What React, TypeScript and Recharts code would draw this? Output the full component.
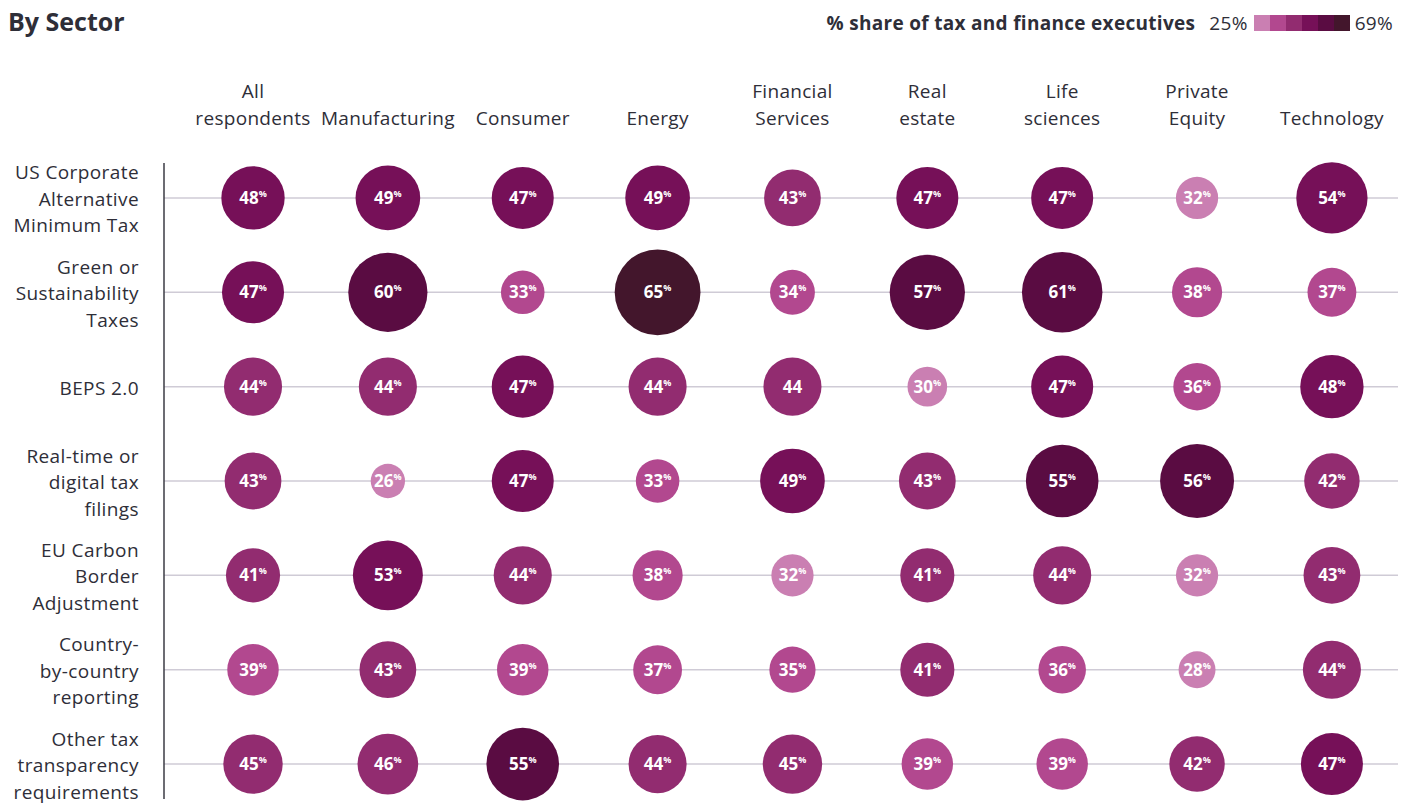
import { ScatterChart, Scatter, XAxis, YAxis, ZAxis, ReferenceLine } from "recharts";

const FONT = "'Open Sans', sans-serif";
const TEXT = "#2e2e38";

// sector columns (line breaks as in the header)
const sectors = [
    "All\nrespondents",
    "Manufacturing",
    "Consumer",
    "Energy",
    "Financial\nServices",
    "Real\nestate",
    "Life\nsciences",
    "Private\nEquity",
    "Technology",
];

// issue rows
const issues = [
    "US Corporate\nAlternative\nMinimum Tax",
    "Green or\nSustainability\nTaxes",
    "BEPS 2.0",
    "Real-time or\ndigital tax\nfilings",
    "EU Carbon\nBorder\nAdjustment",
    "Country-\nby-country\nreporting",
    "Other tax\ntransparency\nrequirements",
];

// % share per sector, same order as sectors
const usCorporateAmt = [48, 49, 47, 49, 43, 47, 47, 32, 54];
const greenTaxes = [47, 60, 33, 65, 34, 57, 61, 38, 37];
const beps2 = [44, 44, 47, 44, 44, 30, 47, 36, 48];
const realTimeFilings = [43, 26, 47, 33, 49, 43, 55, 56, 42];
const euCarbonBorder = [41, 53, 44, 38, 32, 41, 44, 32, 43];
const countryByCountry = [39, 43, 39, 37, 35, 41, 36, 28, 44];
const otherTransparency = [45, 46, 55, 44, 45, 39, 39, 42, 47];

const issueValues = [usCorporateAmt, greenTaxes, beps2, realTimeFilings, euCarbonBorder, countryByCountry, otherTransparency];

// the source prints this one without the % sign
const bareLabels = [{ issue: "BEPS 2.0", sector: "Financial\nServices" }];

const legendMin = 25;
const legendMax = 69;
const palette = ["#ca7fb2", "#b2488f", "#922c70", "#761058", "#5a0c42", "#43162c"];

const colorFor = (v: number) => {
    const step = Math.floor(((v - legendMin) * palette.length) / (legendMax - legendMin));
    return palette[Math.max(0, Math.min(palette.length - 1, step))];
};

const points = issueValues.flatMap((row, i) =>
    row.map((value, j) => ({
        sector: j,
        issue: i,
        value,
        showPercent: !bareLabels.some((b) => b.issue === issues[i] && b.sector === sectors[j]),
    }))
);

const Bubble = (props: any) => {
    const { cx, cy, size, payload } = props;
    const r = size / 2;
    return (
        <g>
            <circle cx={cx} cy={cy} r={r} fill={colorFor(payload.value)} />
            <text x={cx} y={cy + 6} textAnchor="middle" fill="#fff" fontSize={17} fontWeight={700} fontFamily={FONT}>
                {payload.value}
                {payload.showPercent && <tspan fontSize={9} dy={-7}>%</tspan>}
            </text>
        </g>
    );
};

const SectorTick = ({ x, y, payload }: any) => {
    const lines = sectors[payload.value].split("\n");
    return (
        <text x={x} textAnchor="middle" fill={TEXT} fontSize={19} letterSpacing={0.3} fontFamily={FONT}>
            {lines.map((l, k) => (
                <tspan key={k} x={x} y={y - 30 - (lines.length - 1 - k) * 27}>{l}</tspan>
            ))}
        </text>
    );
};

const IssueTick = ({ x, y, payload }: any) => {
    const lines = issues[payload.value].split("\n");
    return (
        <text x={x} textAnchor="end" fill={TEXT} fontSize={19} letterSpacing={0.4} fontFamily={FONT}>
            {lines.map((l, k) => (
                <tspan key={k} x={x} y={y + 8 + (k - (lines.length - 1) / 2) * 26.5}>{l}</tspan>
            ))}
        </text>
    );
};

export default function App() {
    return (
        <div style={{ position: "absolute", left: 0, top: 0, width: 1413, height: 805, background: "#fff", fontFamily: FONT, color: TEXT }}>
            <div style={{ position: "absolute", left: 8, top: 4, fontSize: 25, fontWeight: 700 }}>By Sector</div>
            <div style={{ position: "absolute", right: 20, top: 10, display: "flex", alignItems: "center", fontSize: 19, letterSpacing: 0.3 }}>
                <span style={{ fontWeight: 700, marginRight: 14 }}>% share of tax and finance executives</span>
                <span style={{ marginRight: 6 }}>{legendMin}%</span>
                {palette.map((c) => (
                    <span key={c} style={{ display: "inline-block", width: 16, height: 16, background: c }} />
                ))}
                <span style={{ marginLeft: 5 }}>{legendMax}%</span>
            </div>
            <div style={{ position: "absolute", left: 0, top: 0 }}>
                <ScatterChart width={1413} height={805} margin={{ top: 0, right: 15, bottom: 6, left: 0 }}>
                    <XAxis
                        type="number"
                        dataKey="sector"
                        orientation="top"
                        domain={[-0.66, 8.49]}
                        ticks={sectors.map((_, i) => i)}
                        interval={0}
                        height={163}
                        axisLine={false}
                        tickLine={false}
                        tick={SectorTick}
                    />
                    <YAxis
                        type="number"
                        dataKey="issue"
                        domain={[-0.37, 6.37]}
                        reversed
                        ticks={issues.map((_, i) => i)}
                        interval={0}
                        width={164}
                        axisLine={{ stroke: "#3b3b45", strokeWidth: 1.5 }}
                        tickLine={false}
                        tickMargin={19}
                        tick={IssueTick}
                    />
                    <ZAxis type="number" dataKey="value" domain={[0, 100]} range={[0, 132]} />
                    {issues.map((_, i) => (
                        <ReferenceLine key={i} y={i} stroke="#cfcbd6" strokeWidth={1.5} />
                    ))}
                    <Scatter data={points} shape={Bubble} isAnimationActive={false} />
                </ScatterChart>
            </div>
        </div>
    );
}
